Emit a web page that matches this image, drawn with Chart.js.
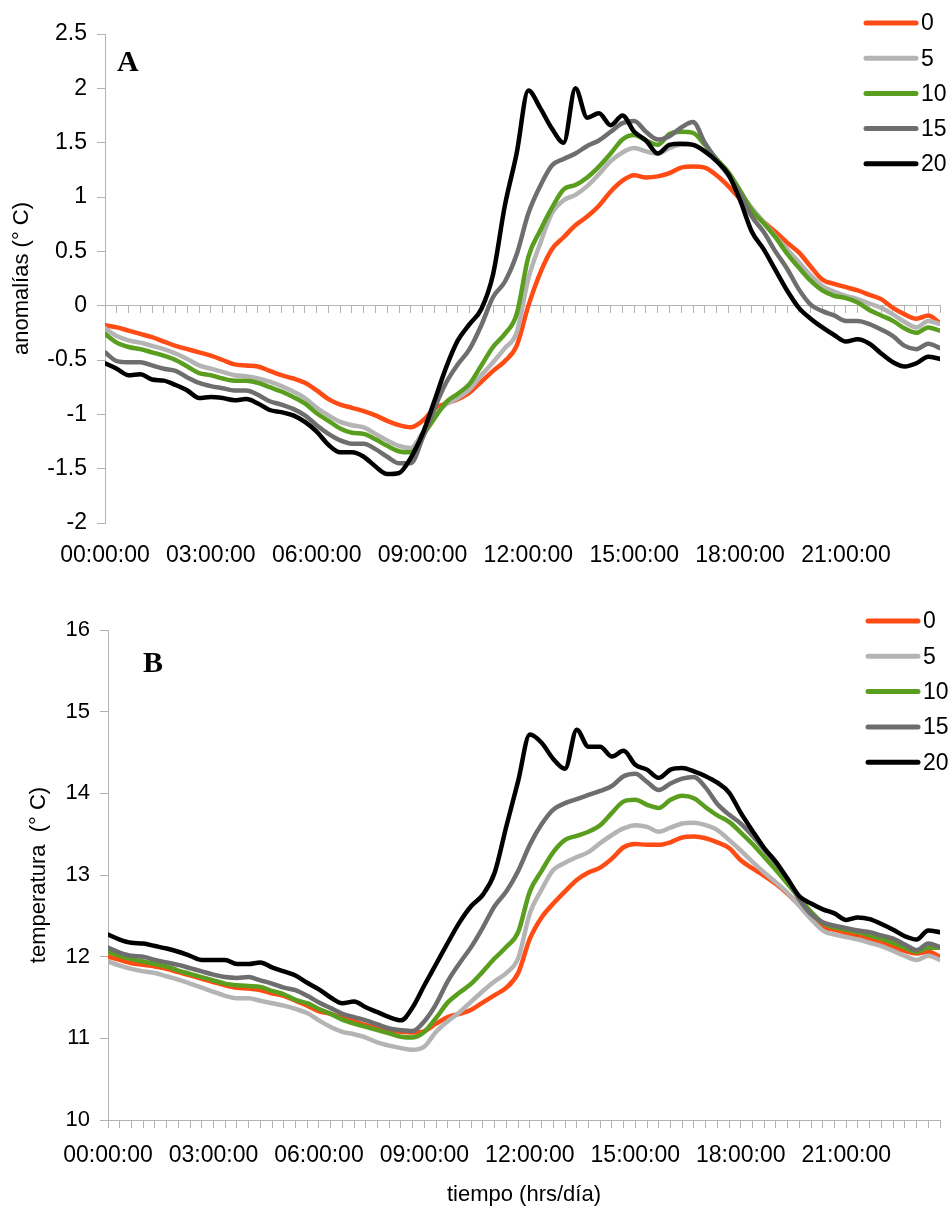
<!DOCTYPE html>
<html>
<head>
<meta charset="utf-8">
<script src="https://cdn.jsdelivr.net/npm/chart.js@4.4.0/dist/chart.umd.min.js"></script>
<style>
  html, body { margin: 0; padding: 0; background: #ffffff; overflow: hidden; }
  #wrapA { position: absolute; left: 0; top: 0; width: 951px; height: 590px; }
  #wrapB { position: absolute; left: 0; top: 590px; width: 951px; height: 617px; }
</style>
</head>
<body>
<div id="wrapA"><canvas id="chartA" width="951" height="590"></canvas></div>
<div id="wrapB"><canvas id="chartB" width="951" height="617"></canvas></div>
<script>
// ---------------- DATA ----------------
// time of day in minutes (every 20 min)
const times = [0,20,40,60,80,100,120,140,160,180,
  200,220,240,260,280,300,320,340,360,380,
  400,420,440,460,480,500,520,540,560,580,
  600,620,640,660,680,700,720,740,760,780,
  800,820,840,860,880,900,920,940,960,980,
  1000,1020,1040,1060,1080,1100,1120,1140,1160,1180,
  1200,1220,1240,1260,1280,1300,1320,1340,1360,1380,
  1400,1420];

const seriesLabels = ['0', '5', '10', '15', '20'];

const xTickMinutes = [0, 180, 360, 540, 720, 900, 1080, 1260];
const xTickLabels = ['00:00:00','03:00:00','06:00:00','09:00:00','12:00:00','15:00:00','18:00:00','21:00:00'];

// Panel A: anomalías (°C)
const anomalia0 = [-0.18,-0.20,-0.23,-0.26,-0.29,-0.33,-0.37,-0.40,-0.43,-0.46,
  -0.50,-0.54,-0.55,-0.56,-0.60,-0.64,-0.67,-0.71,-0.78,-0.86,
  -0.91,-0.94,-0.97,-1.01,-1.06,-1.10,-1.12,-1.06,-0.95,-0.90,
  -0.86,-0.80,-0.70,-0.60,-0.51,-0.37,0.00,0.30,0.52,0.63,
  0.74,0.82,0.92,1.05,1.15,1.20,1.18,1.19,1.22,1.27,
  1.28,1.27,1.20,1.10,0.98,0.86,0.77,0.68,0.58,0.49,
  0.36,0.24,0.20,0.17,0.14,0.10,0.06,-0.02,-0.08,-0.12,
  -0.09,-0.16];
const anomalia5 = [-0.21,-0.28,-0.32,-0.34,-0.37,-0.40,-0.44,-0.49,-0.55,-0.58,
  -0.61,-0.64,-0.65,-0.67,-0.70,-0.74,-0.79,-0.85,-0.94,-1.01,
  -1.07,-1.10,-1.12,-1.18,-1.24,-1.29,-1.31,-1.17,-1.01,-0.91,
  -0.85,-0.77,-0.64,-0.52,-0.39,-0.25,0.25,0.57,0.85,0.97,
  1.02,1.10,1.21,1.33,1.41,1.45,1.42,1.40,1.45,1.48,
  1.48,1.42,1.34,1.20,1.04,0.90,0.77,0.64,0.52,0.40,
  0.28,0.18,0.13,0.09,0.06,0.02,-0.02,-0.08,-0.15,-0.20,
  -0.14,-0.17];
const anomalia10 = [-0.26,-0.34,-0.38,-0.40,-0.43,-0.46,-0.50,-0.56,-0.62,-0.64,
  -0.67,-0.69,-0.69,-0.71,-0.75,-0.79,-0.84,-0.90,-0.99,-1.06,
  -1.13,-1.17,-1.18,-1.23,-1.29,-1.34,-1.35,-1.20,-1.04,-0.89,
  -0.81,-0.72,-0.55,-0.38,-0.26,-0.08,0.45,0.69,0.90,1.07,
  1.11,1.18,1.28,1.40,1.53,1.57,1.52,1.48,1.58,1.60,
  1.59,1.48,1.35,1.23,1.06,0.88,0.76,0.63,0.48,0.35,
  0.23,0.14,0.09,0.07,0.03,-0.04,-0.09,-0.14,-0.21,-0.25,
  -0.20,-0.23];
const anomalia15 = [-0.43,-0.51,-0.52,-0.52,-0.55,-0.58,-0.60,-0.66,-0.71,-0.74,
  -0.76,-0.78,-0.78,-0.82,-0.88,-0.91,-0.95,-1.01,-1.10,-1.18,
  -1.24,-1.27,-1.27,-1.32,-1.39,-1.45,-1.45,-1.22,-0.95,-0.71,
  -0.54,-0.40,-0.18,0.08,0.22,0.47,0.85,1.10,1.29,1.35,
  1.40,1.47,1.52,1.60,1.68,1.70,1.60,1.53,1.56,1.64,
  1.69,1.50,1.34,1.20,1.03,0.82,0.68,0.50,0.34,0.15,
  0.01,-0.05,-0.09,-0.14,-0.14,-0.17,-0.22,-0.28,-0.37,-0.40,
  -0.35,-0.39];
const anomalia20 = [-0.53,-0.58,-0.64,-0.63,-0.68,-0.69,-0.73,-0.78,-0.85,-0.84,
  -0.85,-0.87,-0.86,-0.90,-0.96,-0.98,-1.01,-1.07,-1.16,-1.28,
  -1.35,-1.35,-1.39,-1.48,-1.55,-1.54,-1.40,-1.18,-0.88,-0.57,
  -0.32,-0.17,-0.03,0.29,0.92,1.40,1.98,1.82,1.63,1.50,
  2.00,1.73,1.77,1.66,1.75,1.60,1.52,1.40,1.48,1.49,
  1.48,1.42,1.33,1.21,0.97,0.68,0.52,0.33,0.14,-0.02,
  -0.12,-0.20,-0.27,-0.33,-0.31,-0.35,-0.44,-0.52,-0.56,-0.53,
  -0.47,-0.49];

// Panel B: temperatura (°C)
const temp0 = [12.00,11.96,11.92,11.90,11.88,11.85,11.81,11.77,11.73,11.69,
  11.65,11.62,11.61,11.59,11.55,11.52,11.46,11.40,11.33,11.30,
  11.25,11.21,11.16,11.13,11.10,11.08,11.07,11.09,11.18,11.26,
  11.30,11.35,11.44,11.53,11.62,11.80,12.22,12.48,12.65,12.80,
  12.94,13.03,13.09,13.20,13.34,13.38,13.37,13.37,13.40,13.46,
  13.47,13.45,13.40,13.33,13.18,13.08,12.99,12.89,12.77,12.63,
  12.48,12.36,12.33,12.29,12.25,12.21,12.17,12.12,12.07,12.04,
  12.06,12.00];
const temp5 = [11.94,11.89,11.85,11.82,11.80,11.76,11.72,11.67,11.62,11.57,
  11.52,11.49,11.49,11.46,11.43,11.40,11.36,11.31,11.22,11.14,
  11.08,11.05,11.01,10.95,10.91,10.88,10.86,10.90,11.08,11.21,
  11.32,11.45,11.58,11.70,11.80,11.98,12.53,12.82,13.06,13.15,
  13.22,13.28,13.39,13.49,13.57,13.61,13.59,13.53,13.58,13.63,
  13.64,13.61,13.55,13.43,13.30,13.16,13.03,12.91,12.78,12.62,
  12.46,12.32,12.27,12.24,12.21,12.17,12.13,12.07,12.01,11.96,
  12.01,11.96];
const temp10 = [12.06,12.01,11.97,11.94,11.91,11.88,11.83,11.79,11.75,11.71,
  11.67,11.65,11.64,11.63,11.58,11.54,11.47,11.43,11.36,11.30,
  11.23,11.18,11.14,11.10,11.06,11.02,11.01,11.08,11.25,11.44,
  11.56,11.67,11.82,11.98,12.12,12.30,12.80,13.05,13.28,13.43,
  13.48,13.53,13.61,13.76,13.90,13.92,13.86,13.82,13.92,13.97,
  13.94,13.83,13.73,13.65,13.52,13.38,13.22,13.06,12.89,12.72,
  12.55,12.41,12.36,12.33,12.30,12.26,12.22,12.17,12.11,12.06,
  12.11,12.11];
const temp15 = [12.11,12.05,12.01,12.00,11.96,11.93,11.90,11.86,11.82,11.78,
  11.75,11.74,11.75,11.71,11.67,11.62,11.59,11.52,11.44,11.37,
  11.30,11.26,11.22,11.17,11.12,11.10,11.09,11.21,11.42,11.70,
  11.92,12.12,12.36,12.62,12.80,13.05,13.37,13.62,13.80,13.88,
  13.93,13.98,14.03,14.09,14.21,14.24,14.14,14.04,14.12,14.18,
  14.20,14.07,13.87,13.74,13.63,13.48,13.31,13.14,12.95,12.70,
  12.52,12.42,12.38,12.35,12.32,12.30,12.26,12.22,12.15,12.08,
  12.16,12.12];
const temp20 = [12.27,12.21,12.17,12.16,12.13,12.10,12.06,12.01,11.96,11.96,
  11.96,11.91,11.91,11.93,11.87,11.82,11.77,11.68,11.60,11.50,
  11.43,11.45,11.38,11.32,11.26,11.22,11.38,11.65,11.91,12.17,
  12.42,12.62,12.76,13.03,13.60,14.15,14.72,14.62,14.42,14.30,
  14.78,14.57,14.57,14.45,14.52,14.35,14.29,14.19,14.29,14.31,
  14.27,14.21,14.13,14.01,13.76,13.54,13.33,13.16,12.95,12.74,
  12.65,12.58,12.53,12.45,12.48,12.46,12.40,12.33,12.25,12.21,
  12.32,12.30];

// ---------------- STYLE ----------------
const COLORS = ['#FF4B14', '#B4B4B4', '#5A9E1F', '#6E6E6E', '#000000'];
const AXIS_COLOR = '#B3B3B3';
const FONT = '"Liberation Sans", Arial, sans-serif';

Chart.defaults.font.family = FONT;
Chart.defaults.color = '#000000';

function makeDatasets(list) {
  return list.map((vals, i) => ({
    label: seriesLabels[i],
    data: times.map((t, j) => ({ x: t, y: vals[j] })),
    borderColor: COLORS[i],
    backgroundColor: COLORS[i],
    borderWidth: 4.5,
    pointRadius: 0,
    pointHoverRadius: 0,
    fill: false,
    cubicInterpolationMode: 'monotone',
    borderCapStyle: 'round',
    borderJoinStyle: 'round',
    order: list.length - i
  }));
}

function timeLabel(v) {
  const k = xTickMinutes.indexOf(Math.round(v));
  return k >= 0 ? xTickLabels[k] : '';
}

const sideLegend = {
  id: 'sideLegend',
  afterDraw(chart, args, opts) {
    const ctx = chart.ctx;
    ctx.save();
    chart.data.datasets.forEach((ds, i) => {
      const y = opts.y0 + i * opts.dy;
      ctx.strokeStyle = ds.borderColor;
      ctx.lineWidth = 5;
      ctx.lineCap = 'round';
      ctx.beginPath();
      ctx.moveTo(opts.x0, y);
      ctx.lineTo(opts.x1, y);
      ctx.stroke();
      ctx.fillStyle = '#000';
      ctx.font = '23px ' + FONT;
      ctx.textBaseline = 'middle';
      ctx.textAlign = 'left';
      ctx.fillText(ds.label, opts.tx, y + 1);
    });
    ctx.fillStyle = '#000';
    ctx.font = 'bold 30px "Liberation Serif", "DejaVu Serif", serif';
    ctx.textBaseline = 'alphabetic';
    ctx.textAlign = 'left';
    ctx.fillText(opts.letter, opts.lx, opts.ly);
    ctx.restore();
  }
};

// ---------------- CHART A ----------------
new Chart(document.getElementById('chartA'), {
  type: 'line',
  data: { datasets: makeDatasets([anomalia0, anomalia5, anomalia10, anomalia15, anomalia20]) },
  plugins: [sideLegend],
  options: {
    responsive: false,
    animation: false,
    devicePixelRatio: 1,
    layout: { padding: { top: 34, right: 11, left: 0, bottom: 0 } },
    plugins: {
      legend: { display: false },
      tooltip: { enabled: false },
      sideLegend: { x0: 866, x1: 916, tx: 921, y0: 23, dy: 35.2, letter: 'A', lx: 117, ly: 71 }
    },
    scales: {
      x: {
        type: 'linear', position: 'bottom', min: 0, max: 1420,
        border: { display: false },
        grid: { display: true, drawOnChartArea: false, drawTicks: false, color: 'rgba(0,0,0,0)' },
        ticks: { stepSize: 20, autoSkip: false, maxRotation: 0, minRotation: 0, padding: 19,
                 font: { size: 23 }, color: '#000', callback: timeLabel },
        afterFit(s) { s.height = 67; s.paddingLeft = 0; s.paddingRight = 0; }
      },
      x0: {
        type: 'linear', position: { y: 0 }, min: 0, max: 1420,
        border: { display: true, color: AXIS_COLOR, width: 1 },
        grid: { drawOnChartArea: false, drawTicks: true, tickLength: 7, color: AXIS_COLOR },
        ticks: { display: false, stepSize: 20, autoSkip: false }
      },
      y: {
        min: -2, max: 2.5,
        border: { display: true, color: AXIS_COLOR, width: 1 },
        grid: { drawOnChartArea: false, drawTicks: true, tickLength: 8, color: AXIS_COLOR },
        ticks: { stepSize: 0.5, padding: 10, font: { size: 23 }, color: '#000', callback: v => String(v) },
        title: { display: true, text: 'anomalías (° C)', font: { size: 22 }, color: '#000', padding: { top: 9, bottom: 0 } },
        afterFit(s) { s.width = 105; s.paddingTop = 0; s.paddingBottom = 0; }
      }
    }
  }
});

// ---------------- CHART B ----------------
new Chart(document.getElementById('chartB'), {
  type: 'line',
  data: { datasets: makeDatasets([temp0, temp5, temp10, temp15, temp20]) },
  plugins: [sideLegend],
  options: {
    responsive: false,
    animation: false,
    devicePixelRatio: 1,
    layout: { padding: { top: 40, right: 11, left: 0, bottom: 0 } },
    plugins: {
      legend: { display: false },
      tooltip: { enabled: false },
      sideLegend: { x0: 868, x1: 918, tx: 923, y0: 31, dy: 35.3, letter: 'B', lx: 143, ly: 82 }
    },
    scales: {
      x: {
        type: 'linear', position: 'bottom', min: 0, max: 1420,
        border: { display: true, color: AXIS_COLOR, width: 1 },
        grid: { drawOnChartArea: false, drawTicks: true, tickLength: 8, color: AXIS_COLOR },
        ticks: { stepSize: 20, autoSkip: false, maxRotation: 0, minRotation: 0, padding: 14,
                 font: { size: 23 }, color: '#000', callback: timeLabel },
        title: { display: true, text: 'tiempo (hrs/día)', font: { size: 22, lineHeight: 1.1 }, color: '#000', padding: { top: 0, bottom: 0 } },
        afterFit(s) { s.height = 87; s.paddingLeft = 0; s.paddingRight = 0; }
      },
      y: {
        min: 10, max: 16,
        border: { display: true, color: AXIS_COLOR, width: 1 },
        grid: { drawOnChartArea: false, drawTicks: true, tickLength: 8, color: AXIS_COLOR },
        ticks: { stepSize: 1, padding: 10, font: { size: 22 }, color: '#000', callback: v => String(v) },
        title: { display: true, text: 'temperatura  (° C)', font: { size: 22 }, color: '#000', padding: { top: 26, bottom: 0 } },
        afterFit(s) { s.width = 108; s.paddingTop = 0; s.paddingBottom = 0; }
      }
    }
  }
});
</script>
</body>
</html>
